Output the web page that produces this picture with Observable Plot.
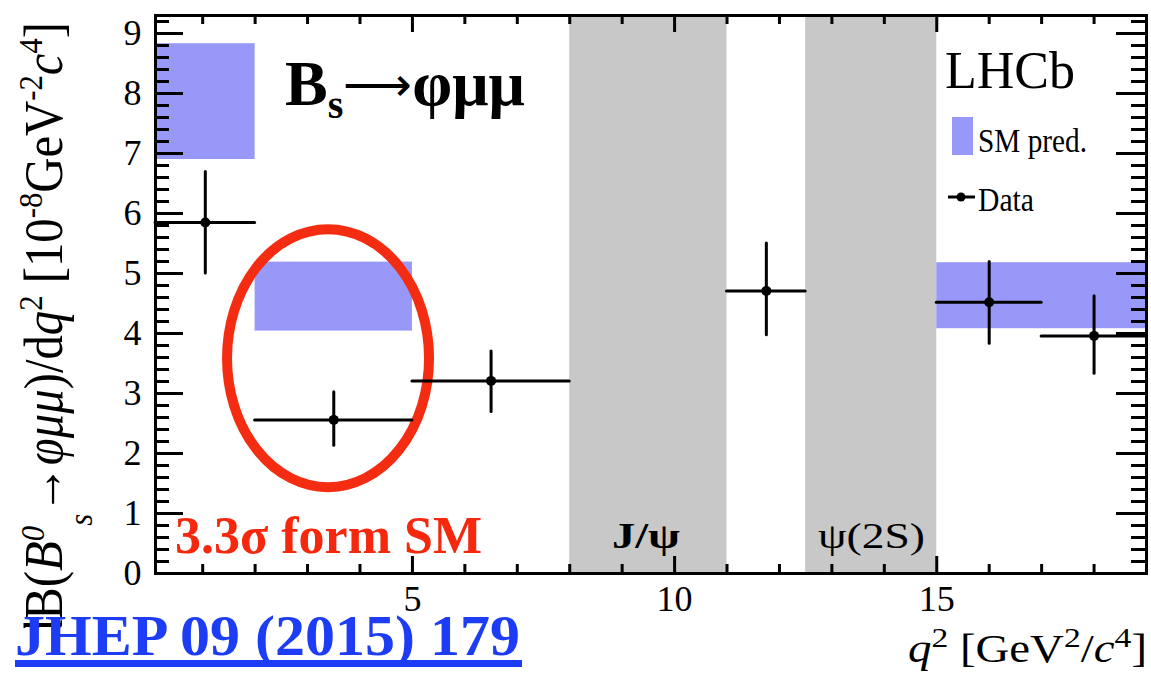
<!DOCTYPE html>
<html>
<head>
<meta charset="utf-8">
<script src="https://cdn.jsdelivr.net/npm/d3@7"></script>
<script src="https://cdn.jsdelivr.net/npm/@observablehq/plot@0.6"></script>
<style>
  html, body { margin: 0; padding: 0; background: #fff; }
  #chart svg { display: block; }
</style>
</head>
<body>
<div id="chart"></div>
<script>
// q² bins [GeV²/c⁴] and measured dB/dq² [10⁻⁸ GeV⁻² c⁴] with asymmetric total errors
const binLow   = [0.1, 2.0, 5.0, 11.0, 15.0, 17.0];
const binHigh  = [2.0, 5.0, 8.0, 12.5, 17.0, 19.0];
const binMid   = [1.05, 3.5, 6.5, 11.75, 16.0, 18.0];
const dBdq2    = [5.85, 2.56, 3.21, 4.71, 4.52, 3.96];
const errUp    = [0.84, 0.46, 0.49, 0.79, 0.67, 0.66];
const errDown  = [0.85, 0.43, 0.52, 0.74, 0.69, 0.63];

// Standard Model prediction bands
const smLow  = [0.1, 2.0, 15.0];
const smHigh = [2.0, 5.0, 19.0];
const smMin  = [6.90, 4.04, 4.08];
const smMax  = [8.83, 5.19, 5.18];

// charmonium veto regions
const vetoLow  = [8.0, 12.5];
const vetoHigh = [11.0, 15.0];

// axis ticks
const xMajor = [5, 10, 15];
const xMinor = [1, 2, 3, 4, 6, 7, 8, 9, 11, 12, 13, 14, 16, 17, 18, 19];
const yMajor = [0, 1, 2, 3, 4, 5, 6, 7, 8, 9];
const yMinor = d3.range(1, 47).map(i => i / 5).filter(v => Math.abs(v - Math.round(v)) > 1e-6);

const BLUE = "#9898f9";
const GREY = "#c8c8c8";
const SERIF = "'Liberation Serif', 'Times New Roman', serif";

const W = 1151, H = 679;
const mL = 155, mR = 5, mT = 15, mB = 106;
const fw = W - mL - mR, fh = H - mT - mB;

const points = binMid.map((m, i) => ({
  lo: binLow[i], hi: binHigh[i], mid: m, v: dBdq2[i],
  up: dBdq2[i] + errUp[i], dn: dBdq2[i] - errDown[i]
}));
const sm = smLow.map((lo, i) => ({lo, hi: smHigh[i], min: smMin[i], max: smMax[i]}));
const veto = vetoLow.map((lo, i) => ({lo, hi: vetoHigh[i]}));

const tick = {stroke: "black", strokeWidth: 3};

const plot = Plot.plot({
  width: W, height: H,
  marginLeft: mL, marginRight: mR, marginTop: mT, marginBottom: mB,
  x: {domain: [0.1, 19]},
  y: {domain: [0, 9.3]},
  style: {fontSize: "36px", color: "black", background: "white", overflow: "visible"},
  marks: [
    Plot.rect(veto, {x1: "lo", x2: "hi", fill: GREY}),
    Plot.rect(sm, {x1: "lo", x2: "hi", y1: "min", y2: "max", fill: BLUE}),
    Plot.ruleY(points, {x1: "lo", x2: "hi", y: "v", stroke: "black", strokeWidth: 3, strokeLinecap: "round"}),
    Plot.ruleX(points, {x: "mid", y1: "dn", y2: "up", stroke: "black", strokeWidth: 3, strokeLinecap: "round"}),
    Plot.dot(points, {x: "mid", y: "v", r: 5, fill: "black"}),
    // inward ticks on all four sides
    Plot.tickY(yMajor, {y: d => d, insetRight: fw - 28, ...tick}),
    Plot.tickY(yMinor, {y: d => d, insetRight: fw - 14, ...tick}),
    Plot.tickY(yMajor, {y: d => d, insetLeft: fw - 30, ...tick}),
    Plot.tickY(yMinor, {y: d => d, insetLeft: fw - 15, ...tick}),
    Plot.tickX(xMajor, {x: d => d, insetTop: fh - 17, ...tick}),
    Plot.tickX(xMinor, {x: d => d, insetTop: fh - 9, ...tick}),
    Plot.tickX(xMajor, {x: d => d, insetBottom: fh - 17, ...tick}),
    Plot.tickX(xMinor, {x: d => d, insetBottom: fh - 9, ...tick}),
    Plot.axisY(yMajor, {tickSize: 0, tickPadding: 14, label: null, fontSize: 36, tickFormat: d => String(d)}),
    Plot.axisX(xMajor, {tickSize: 0, tickPadding: 12, label: null, fontSize: 36, tickFormat: d => String(d)}),
    Plot.frame({stroke: "black", strokeWidth: 3})
  ]
});

document.getElementById("chart").append(plot);

const svg = d3.select(plot);
svg.style("font-family", SERIF);
svg.selectAll("text").style("font-family", SERIF);
const sx = plot.scale("x"), sy = plot.scale("y");

// red oval around the 2 < q² < 5 bin, drawn beneath the data points
const firstRule = plot.querySelector('[aria-label="rule"]');
const ell = document.createElementNS("http://www.w3.org/2000/svg", "ellipse");
ell.setAttribute("cx", sx.apply(3.40));
ell.setAttribute("cy", sy.apply(3.58));
ell.setAttribute("rx", 101);
ell.setAttribute("ry", 129);
ell.setAttribute("fill", "none");
ell.setAttribute("stroke", "#f42c12");
ell.setAttribute("stroke-width", 10);
if (firstRule) plot.insertBefore(ell, firstRule); else plot.append(ell);

// rich text helper: parts = [{t, italic, size, shift, weight}]
function rich(parent, parts, attrs) {
  const t = parent.append("text").style("font-family", SERIF).attr("text-anchor", "start");
  for (const [k, v] of Object.entries(attrs)) t.attr(k, v);
  for (const p of parts) {
    const s = t.append("tspan").text(p.t);
    if (p.italic) s.attr("font-style", "italic");
    if (p.size) s.attr("font-size", p.size);
    if (p.shift) s.attr("baseline-shift", p.shift);
    if (p.weight) s.attr("font-weight", p.weight);
  }
  return t;
}
function plain(parent, str, x, y, size, extra = {}) {
  const t = parent.append("text").attr("x", x).attr("y", y).attr("font-size", size)
    .attr("text-anchor", "start").style("font-family", SERIF).text(str);
  for (const [k, v] of Object.entries(extra)) t.attr(k, v);
  return t;
}

const g = svg.append("g").attr("text-anchor", "start");

// process label
rich(g, [
  {t: "B"},
  {t: "s", size: 40, shift: "-13px"},
  {t: "⟶", weight: "normal", size: 48, shift: "4px"},
  {t: "φμμ"}
], {x: 285, y: 105, "font-size": 64, "font-weight": "bold"});

// experiment label and legend
plain(g, "LHCb", 945, 88, 52);
g.append("rect").attr("x", 952).attr("y", 117).attr("width", 21).attr("height", 38).attr("fill", BLUE);
plain(g, "SM pred.", 978, 152, 34, {textLength: 109, lengthAdjust: "spacingAndGlyphs"});
g.append("line").attr("x1", 948).attr("x2", 975).attr("y1", 197).attr("y2", 197).attr("stroke", "black").attr("stroke-width", 3);
g.append("circle").attr("cx", 961).attr("cy", 197).attr("r", 4.5).attr("fill", "black");
plain(g, "Data", 978, 211, 34, {textLength: 56, lengthAdjust: "spacingAndGlyphs"});

// veto region names
plain(g, "J/ψ", 612, 548, 36, {"font-weight": "bold", textLength: 68, lengthAdjust: "spacingAndGlyphs"});
plain(g, "ψ(2S)", 818, 548, 36, {textLength: 107, lengthAdjust: "spacingAndGlyphs"});

// significance note
plain(g, "3.3σ form SM", 175, 553, 52, {"font-weight": "bold", fill: "#f5280e"});

// x-axis title
rich(g, [
  {t: "q", italic: true},
  {t: "2", size: 28, shift: "15px"},
  {t: " [GeV"},
  {t: "2", size: 28, shift: "15px"},
  {t: "/"},
  {t: "c", italic: true},
  {t: "4", size: 28, shift: "15px"},
  {t: "]"}
], {x: 1147, y: 662, "font-size": 39, "text-anchor": "end", textLength: 239, lengthAdjust: "spacingAndGlyphs"});

// y-axis title, fitted into the strip left of the tick labels
const ylab = rich(g, [
  {t: "dB("},
  {t: "B", italic: true},
  {t: "0", italic: true, size: 34, shift: "18px"},
  {t: "s", italic: true, size: 34, shift: "-30px"},
  {t: "→"},
  {t: "φμμ", italic: true},
  {t: ")/d"},
  {t: "q", italic: true},
  {t: "2", size: 34, shift: "20px"},
  {t: " [10"},
  {t: "-8", size: 34, shift: "20px"},
  {t: "GeV"},
  {t: "-2", size: 34, shift: "20px"},
  {t: "c", italic: true},
  {t: "4", size: 34, shift: "20px"},
  {t: "]"}
], {transform: "translate(70,331) rotate(-90)", "font-size": 54, "text-anchor": "middle",
    textLength: 622, lengthAdjust: "spacingAndGlyphs"});
{
  const s = plot.getBoundingClientRect();
  const r = ylab.node().getBoundingClientRect();
  const dx = 12 - (r.left - s.left);
  const dy = 333 - ((r.top + r.bottom) / 2 - s.top);
  ylab.attr("transform", `translate(${70 + dx},${331 + dy}) rotate(-90)`);
}

// journal reference
g.append("rect").attr("x", 0).attr("y", 628).attr("width", 530).attr("height", 51).attr("fill", "white");
plain(g, "JHEP 09 (2015) 179", 15, 655, 57, {"font-weight": "bold", fill: "#1d3cf5", textLength: 505, lengthAdjust: "spacingAndGlyphs"});
g.append("rect").attr("x", 15).attr("y", 660).attr("width", 507).attr("height", 7).attr("fill", "#1d3cf5");
</script>
</body>
</html>
